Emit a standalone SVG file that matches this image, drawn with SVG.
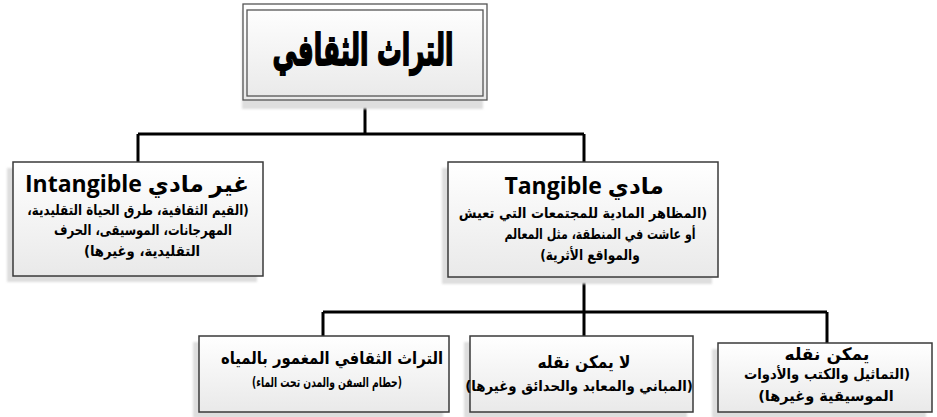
<svg xmlns="http://www.w3.org/2000/svg" width="937" height="417" viewBox="0 0 937 417">
  <defs>
    <linearGradient id="boxFill" x1="0" y1="0" x2="0" y2="1">
      <stop offset="0" stop-color="#ffffff"/>
      <stop offset="1" stop-color="#e9e9e9"/>
    </linearGradient>
    <filter id="soft" x="-5%" y="-5%" width="110%" height="110%">
      <feGaussianBlur stdDeviation="1"/>
    </filter>
  </defs>
  <style>
    .shadow { fill: #dedede; filter: url(#soft); }
    .box { fill: url(#boxFill); stroke: #3a3a3a; stroke-width: 1.5; }
    .frame { fill: none; stroke: #555; stroke-width: 1.3; }
    .wire { fill: none; stroke: #000; stroke-width: 3; }
    text { font-family: "DejaVu Sans", sans-serif; font-weight: bold; fill: #000; text-anchor: middle; direction: rtl; }
    .title { font-size: 43px; stroke: #000; stroke-width: 1.8; }
    .head { font-family: "Open Sans", "DejaVu Sans", sans-serif; font-size: 23px; }
    .body { font-size: 14.5px; }
    .small { font-size: 13.5px; }
    .sub { font-size: 17px; }
  </style>

  <rect width="937" height="417" fill="#fff"/>

  <!-- connectors -->
  <g id="connectors">
    <path class="wire" d="M365 100 V134 M138 134 H584 M138 134 V162 M584 134 V162"/>
    <path class="wire" d="M584 277 V312 M323 312 H827 M323 312 V336 M584 312 V336 M827 312 V343"/>
  </g>

  <!-- root -->
  <g id="root">
    <rect class="shadow" x="242" y="10" width="241" height="99"/>
    <rect fill="url(#boxFill)" x="243" y="4" width="244" height="96"/>
    <rect class="frame" x="243" y="4" width="244" height="96"/>
    <rect class="frame" x="247" y="10" width="236" height="86"/>
    <text class="title" x="363" y="65" textLength="181" lengthAdjust="spacingAndGlyphs">التراث الثقافي</text>
  </g>

  <!-- intangible -->
  <g id="intangible">
    <rect class="shadow" x="7" y="168" width="250" height="114"/>
    <rect class="box" x="13" y="162" width="250" height="114"/>
    <text class="head" x="137" y="192">غير مادي Intangible</text>
    <text class="body" transform="translate(138 215) scale(0.82 1)">(القيم الثقافية، طرق الحياة التقليدية،</text>
    <text class="body" transform="translate(143 235) scale(0.8 1)">المهرجانات، الموسيقى، الحرف</text>
    <text class="body" transform="translate(142 256) scale(0.91 1)">التقليدية، وغيرها)</text>
  </g>

  <!-- tangible -->
  <g id="tangible">
    <rect class="shadow" x="442" y="168" width="270" height="116"/>
    <rect class="box" x="448" y="162" width="270" height="115"/>
    <text class="head" x="584" y="194">مادي Tangible</text>
    <text class="body" transform="translate(583 218) scale(0.89 1)">(المظاهر المادية للمجتمعات التي تعيش</text>
    <text class="body" transform="translate(600 239) scale(0.76 1)">أو عاشت في المنطقة، مثل المعالم</text>
    <text class="body" transform="translate(590 260) scale(0.84 1)">والمواقع الأثرية)</text>
  </g>

  <!-- underwater -->
  <g id="underwater">
    <rect class="shadow" x="193" y="342" width="250" height="76"/>
    <rect class="box" x="199" y="336" width="250" height="76"/>
    <text class="sub" transform="translate(332 364) scale(0.87 1)">التراث الثقافي المغمور بالمياه</text>
    <text class="small" transform="translate(327 387) scale(0.68 1)">(حطام السفن والمدن تحت الماء)</text>
  </g>

  <!-- immovable -->
  <g id="immovable">
    <rect class="shadow" x="464" y="342" width="223" height="76"/>
    <rect class="box" x="470" y="336" width="223" height="76"/>
    <text class="sub" transform="translate(584 368) scale(0.9 1)">لا يمكن نقله</text>
    <text class="body" transform="translate(579 391) scale(0.92 1)">(المباني والمعابد والحدائق وغيرها)</text>
  </g>

  <!-- movable -->
  <g id="movable">
    <rect class="shadow" x="712" y="349" width="214" height="69"/>
    <rect class="box" x="718" y="343" width="214" height="69"/>
    <text class="sub" x="827" y="360">يمكن نقله</text>
    <text class="body" transform="translate(827 379) scale(0.91 1)">(التماثيل والكتب والأدوات</text>
    <text class="body" x="826" y="401">الموسيقية وغيرها)</text>
  </g>
</svg>
